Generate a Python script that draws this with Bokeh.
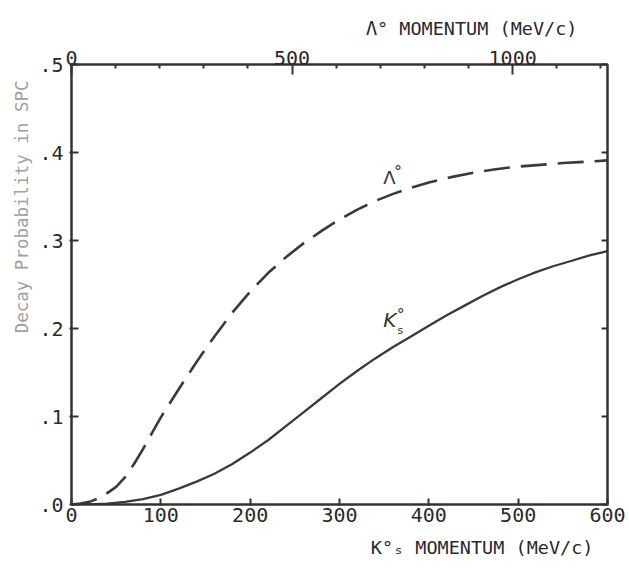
from bokeh.plotting import figure
from bokeh.models import (Range1d, LinearAxis, FixedTicker, CustomJSTickFormatter,
                          Label, ColumnDataSource, Title)
from bokeh.embed import file_html
from bokeh.resources import INLINE

# ---- data ----
lambda_x = [0, 10, 20, 30, 40, 50, 60, 70, 80, 90, 100, 110, 120, 140, 160, 180, 200,
            220, 240, 260, 280, 300, 320, 340, 360, 380, 400, 425, 450, 475, 500, 550, 600]
lambda_p = [0.0, 0.001, 0.003, 0.007, 0.013, 0.020, 0.031, 0.046, 0.063, 0.081, 0.099,
            0.115, 0.131, 0.162, 0.191, 0.218, 0.242, 0.263, 0.281, 0.297, 0.311, 0.324,
            0.335, 0.345, 0.353, 0.360, 0.366, 0.372, 0.377, 0.381, 0.384, 0.388, 0.391]
kaon_x = [0, 20, 40, 60, 80, 100, 120, 140, 160, 180, 200, 220, 240, 260, 280, 300,
          320, 340, 360, 380, 400, 420, 440, 460, 480, 500, 520, 540, 560, 580, 600]
kaon_p = [0.0, 0.0, 0.001, 0.003, 0.006, 0.011, 0.018, 0.026, 0.035, 0.046, 0.059,
          0.073, 0.089, 0.105, 0.121, 0.137, 0.152, 0.166, 0.179, 0.191, 0.203, 0.215,
          0.226, 0.237, 0.247, 0.256, 0.264, 0.271, 0.277, 0.283, 0.288]
bottom_ticks = [0, 100, 200, 300, 400, 500, 600]
top_ticks = [0, 500, 1000]
top_minor_ticks = [100, 200, 300, 400, 600, 700, 800, 900, 1100, 1200]
y_ticks = [0.0, 0.1, 0.2, 0.3, 0.4, 0.5]
lambda_range_max = 1215

INK = "#333333"
TICK_FONT = "DejaVu Sans Mono"
LABEL_FONT = "DejaVu Sans Mono"

p = figure(width=629, height=568, output_backend="svg", toolbar_location=None,
           x_range=Range1d(0, 600), y_range=Range1d(0, 0.5),
           x_axis_location=None, y_axis_location=None,
           min_border_left=71, min_border_right=22, min_border_top=64,
           min_border_bottom=62, background_fill_color="white",
           border_fill_color="white")
p.grid.visible = False
p.outline_line_color = INK
p.outline_line_width = 2
p.extra_x_ranges = {"lam": Range1d(0, lambda_range_max)}


def style(ax, tin, tout, size="20px"):
    ax.axis_line_color = INK
    ax.axis_line_width = 2
    ax.major_tick_line_color = INK
    ax.major_tick_line_width = 2
    ax.minor_tick_line_color = INK
    ax.minor_tick_line_width = 2
    ax.major_tick_in = tin
    ax.major_tick_out = tout
    ax.major_label_text_font = TICK_FONT
    ax.major_label_text_font_size = size
    ax.major_label_text_color = "#2a2a2a"


bottom = LinearAxis(ticker=FixedTicker(ticks=bottom_ticks))
style(bottom, 6, 1)
bottom.major_label_standoff = 2
bottom.minor_tick_line_color = None
p.add_layout(bottom, "below")

top = LinearAxis(x_range_name="lam",
                 ticker=FixedTicker(ticks=top_ticks, minor_ticks=top_minor_ticks))
style(top, 10, 0)
top.minor_tick_in = 4
top.minor_tick_out = 0
top.major_label_standoff = 0
p.add_layout(top, "above")

left = LinearAxis(ticker=FixedTicker(ticks=y_ticks),
                  formatter=CustomJSTickFormatter(code="return tick.toFixed(1).replace(/^0/, '');"))
style(left, 7, 2)
left.major_label_standoff = 6
left.minor_tick_line_color = None
p.add_layout(left, "left")

right = LinearAxis(ticker=FixedTicker(ticks=y_ticks),
                   formatter=CustomJSTickFormatter(code="return '';"))
style(right, 6, 0)
right.minor_tick_line_color = None
p.add_layout(right, "right")

# ---- curves ----
lam_src = ColumnDataSource(dict(x=lambda_x, y=lambda_p))
k_src = ColumnDataSource(dict(x=kaon_x, y=kaon_p))
p.line("x", "y", source=lam_src, line_color="#3a3a3a", line_width=2.6,
       line_dash="26 11", line_join="round")
p.line("x", "y", source=k_src, line_color="#3a3a3a", line_width=2.3,
       line_join="round")

# ---- in-plot labels ----
p.add_layout(Label(x=349, y=0.36, text="Λ", text_font="DejaVu Sans",
                   text_font_size="18px", text_color="#333333"))
p.add_layout(Label(x=361, y=0.368, text="°", text_font="DejaVu Sans",
                   text_font_size="16px", text_color="#333333"))
p.add_layout(Label(x=349, y=0.196, text="K", text_font="DejaVu Sans",
                   text_font_size="20px", text_font_style="italic", text_color="#333333"))
p.add_layout(Label(x=364, y=0.205, text="°", text_font="DejaVu Sans",
                   text_font_size="16px", text_color="#333333"))
p.add_layout(Label(x=365, y=0.19, text="s", text_font="DejaVu Sans",
                   text_font_size="11px", text_color="#333333"))

# ---- axis titles ----
p.add_layout(Title(text="Λ° MOMENTUM (MeV/c)", align="right", offset=30,
                   text_font=LABEL_FONT, text_font_size="18.5px", text_line_height=0.75,
                   text_font_style="normal", text_color="#2a2a2a", standoff=18), "above")
p.add_layout(Title(text="K°ₛ MOMENTUM (MeV/c)", align="right", offset=14,
                   text_font=LABEL_FONT, text_font_size="18.5px", text_line_height=0.75,
                   text_font_style="normal", text_color="#2a2a2a", standoff=21), "below")
p.add_layout(Title(text="Decay Probability in SPC", align="right", offset=16,
                   text_font=LABEL_FONT, text_font_size="17.5px",
                   text_font_style="normal", text_color="#a0a0a0", standoff=10), "left")

open("out.html", "w").write(file_html(p, INLINE))
